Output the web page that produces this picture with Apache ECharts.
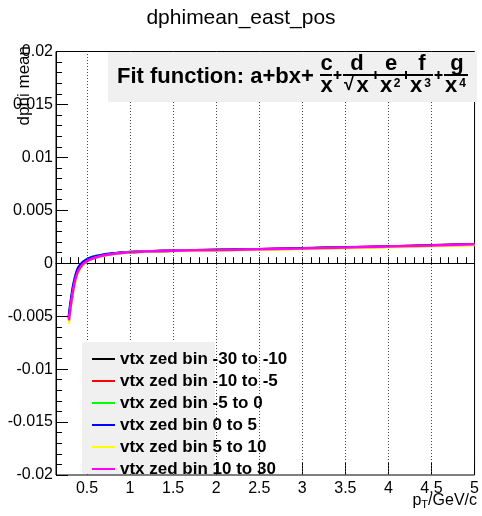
<!DOCTYPE html>
<html><head><meta charset="utf-8">
<script src="https://cdn.jsdelivr.net/npm/echarts@6/dist/echarts.min.js"></script>
<style>html,body{margin:0;padding:0;background:#fff}#c{width:482px;height:516px}</style>
</head><body><div id="c"></div>
<script>
// ---- data ----
const ptValues = [0.29,0.30,0.32,0.34,0.36,0.38,0.40,0.45,0.50,0.55,0.60,0.70,0.80,0.90,1.00,1.25,1.50,2.00,2.50,3.00,3.50,4.00,4.50,5.00];
const seriesNames = ['vtx zed bin -30 to -10','vtx zed bin -10 to -5','vtx zed bin -5 to 0','vtx zed bin 0 to 5','vtx zed bin 5 to 10','vtx zed bin 10 to 30'];
const seriesColors = ['#000000','#ff0000','#00ff00','#0000ff','#ffff00','#ff00ff'];
const vtxM30toM10 = [-0.0052,-0.0046,-0.0034,-0.0024,-0.0016,-0.0010,-0.0006,-0.0001,0.00025,0.00045,0.00058,0.00078,0.0009,0.00099,0.00106,0.00114,0.00119,0.00126,0.00133,0.00141,0.0015,0.00159,0.00169,0.0018];
const vtxM10toM5  = [-0.0052,-0.0046,-0.0034,-0.0024,-0.0016,-0.0010,-0.0006,-0.0001,0.00024,0.00044,0.00057,0.00077,0.00089,0.00098,0.00105,0.00113,0.00118,0.00125,0.00132,0.0014,0.00149,0.00158,0.00168,0.00179];
const vtxM5to0    = [-0.0050,-0.0043,-0.0031,-0.0021,-0.0013,-0.0008,-0.0004,0.0001,0.0004,0.00058,0.00068,0.00083,0.00093,0.001,0.00106,0.00113,0.00118,0.00125,0.00131,0.00139,0.00147,0.00156,0.00165,0.00175];
const vtx0to5     = [-0.0050,-0.0043,-0.0031,-0.0021,-0.0014,-0.0008,-0.0004,0.0001,0.00038,0.00056,0.00066,0.00082,0.00092,0.001,0.00105,0.00112,0.00117,0.00124,0.00131,0.00139,0.00147,0.00156,0.00166,0.00176];
const vtx5to10    = [-0.0057,-0.0050,-0.0037,-0.0027,-0.0019,-0.0013,-0.0008,-0.0002,0.00015,0.00037,0.00052,0.00072,0.00085,0.00094,0.00101,0.0011,0.00115,0.00121,0.00127,0.00134,0.00142,0.0015,0.0016,0.0017];
const vtx10to30   = [-0.0054,-0.0047,-0.0035,-0.0025,-0.0017,-0.0011,-0.0007,-0.0001,0.0002,0.0004,0.00055,0.00075,0.00088,0.00097,0.00104,0.00113,0.00118,0.00125,0.00132,0.0014,0.00149,0.00158,0.00168,0.00179];
const xMajorTicks = [0.5,1,1.5,2,2.5,3,3.5,4,4.5,5];
const xMinorTicks = [0.2,0.3,0.4,0.5,0.6,0.7,0.8,0.9,1,1.1,1.2,1.3,1.4,1.5,1.6,1.7,1.8,1.9,2,2.1,2.2,2.3,2.4,2.5,2.6,2.7,2.8,2.9,3,3.1,3.2,3.3,3.4,3.5,3.6,3.7,3.8,3.9,4,4.1,4.2,4.3,4.4,4.5,4.6,4.7,4.8,4.9,5];
const xGridLines = [0.5,1,1.5,2,2.5,3,3.5,4,4.5];
const chartTitle = 'dphimean_east_pos';
const yTitle = 'dphi mean';

const allSeries = [vtxM30toM10, vtxM10toM5, vtxM5to0, vtx0to5, vtx5to10, vtx10to30];
const FONT = '"Liberation Sans", Arial, sans-serif';

function txt(x, y, text, align, size) {
  return {type:'text', x:x, y:y, z:22, silent:true,
    style:{text:text, font:'bold ' + (size||22) + 'px ' + FONT, fill:'#000', align:align||'center', verticalAlign:'middle'}};
}
function bar(x1, x2, y) {
  return {type:'line', z:21, silent:true, shape:{x1:x1, y1:y, x2:x2, y2:y}, style:{stroke:'#000', lineWidth:2}};
}
function plus(cx, cy) {
  return [
    {type:'line', z:22, silent:true, shape:{x1:cx-4, y1:cy, x2:cx+4, y2:cy}, style:{stroke:'#000', lineWidth:2}},
    {type:'line', z:22, silent:true, shape:{x1:cx, y1:cy-4, x2:cx, y2:cy+4}, style:{stroke:'#000', lineWidth:2}}
  ];
}

const chart = echarts.init(document.getElementById('c'), null, {renderer:'canvas'});
const option = {
  animation:false,
  backgroundColor:'#fff',
  title:{text:chartTitle, left:'center', top:3, textStyle:{fontFamily:FONT, fontSize:21, fontWeight:'normal', color:'#000'}},
  grid:{left:56, right:4, top:51.5, bottom:41, show:true, borderColor:'#000', borderWidth:1, backgroundColor:'transparent'},
  legend:{
    orient:'vertical', left:87, top:343, itemGap:0, itemWidth:23, itemHeight:2, icon:'rect', z:20,
    textStyle:{fontFamily:FONT, fontSize:17, fontWeight:'bold', color:'#000', lineHeight:22},
    data:seriesNames
  },
  xAxis:[
    {type:'value', min:0.14, max:5, gridIndex:0,
      axisLine:{lineStyle:{color:'#000'}},
      axisTick:{show:true, inside:true, length:6, customValues:xMinorTicks, lineStyle:{color:'#000'}},
      axisLabel:{show:false}, splitLine:{show:false}},
    {type:'value', min:0.14, max:5, gridIndex:0, position:'bottom',
      axisLine:{show:false},
      axisTick:{show:true, inside:true, length:12, customValues:xMajorTicks, lineStyle:{color:'#000'}},
      axisLabel:{show:true, customValues:xMajorTicks, margin:6, fontFamily:FONT, fontSize:16, color:'#000', formatter:function(v){return String(v);}},
      splitLine:{show:false}}
  ],
  yAxis:{type:'value', min:-0.02, max:0.02, interval:0.005,
    axisLine:{show:true, lineStyle:{color:'#000'}},
    axisTick:{show:true, inside:true, length:12, lineStyle:{color:'#000'}},
    minorTick:{show:true, splitNumber:5, length:6, lineStyle:{color:'#000'}},
    axisLabel:{margin:3, fontFamily:FONT, fontSize:16, color:'#000', formatter:function(v){return String(Math.round(v*1000)/1000);}},
    splitLine:{show:false}},
  series: seriesNames.map(function(name, i){
    const s = {type:'line', name:name, xAxisIndex:0, showSymbol:false, smooth:0.3,
      data: ptValues.map(function(x, k){ return [x, allSeries[i][k]]; }),
      color: seriesColors[i],
      lineStyle:{color:seriesColors[i], width:2.5}};
    if (i === 0) {
      s.markLine = {silent:true, symbol:['none','none'], label:{show:false},
        lineStyle:{color:'#444', type:[1,2], width:1},
        data: xGridLines.map(function(v){ return {xAxis:v}; })};
    }
    return s;
  }),
  graphic:[
    {type:'rect', z:10, silent:true, shape:{x:82, y:342, width:133, height:132}, style:{fill:'#f0f0f0'}},
    {type:'rect', z:10, silent:true, shape:{x:108, y:52, width:369, height:50}, style:{fill:'#f0f0f0'}},
    txt(117, 76.5, 'Fit function: a+bx+', 'left'),
    txt(326.5, 63.5, 'c'), bar(320, 332, 75), txt(326.5, 85.5, 'x'),
    txt(357, 63.5, 'd'), bar(343, 372, 75), txt(349, 85.5, '\u221A', 'center', 18), txt(362.5, 85.5, 'x'),
    txt(391, 63.5, 'e'), bar(379, 402, 75), txt(386, 85.5, 'x'), txt(397, 83.5, '2', 'center', 12),
    txt(422, 63.5, 'f'), bar(410, 433, 75), txt(416, 85.5, 'x'), txt(427.5, 83.5, '3', 'center', 12),
    txt(457, 63.5, 'g'), bar(444, 468, 75), txt(451, 85.5, 'x'), txt(462.5, 83.5, '4', 'center', 12),
    {type:'text', x:24, y:46, rotation:Math.PI/2, silent:true, z:21,
      style:{text:yTitle, font:'17px ' + FONT, fill:'#000', align:'right', verticalAlign:'middle'}},
    {type:'text', x:477, y:501, silent:true, z:21,
      style:{text:'{a|p}{s|T}{a|/GeV/c}', align:'right', verticalAlign:'middle', fill:'#000',
        rich:{a:{fontFamily:FONT, fontSize:16, fill:'#000'}, s:{fontFamily:FONT, fontSize:11, fill:'#000', padding:[8,0,0,0]}}}}
  ].concat(plus(337.5, 75), plus(375.5, 75), plus(406, 75), plus(438.5, 75))
};
chart.setOption(option);
</script>
</body></html>
